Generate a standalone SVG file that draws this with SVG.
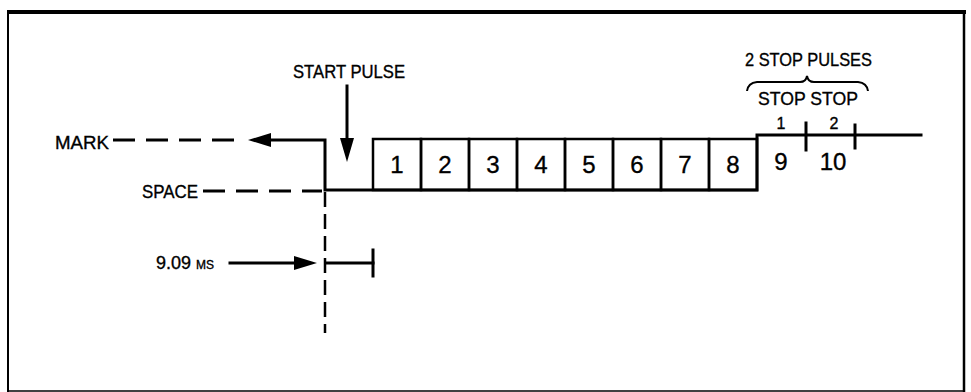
<svg xmlns="http://www.w3.org/2000/svg" width="971" height="392" viewBox="0 0 971 392">
<defs>
<style>
.t{font-family:"Liberation Sans",Arial,sans-serif;fill:#000;stroke:#000;stroke-width:0.35}
.lbl{font-size:18px}
.dig{font-size:24px;text-anchor:middle}
.sm{font-size:16px;text-anchor:middle}
.ln{stroke:#000;stroke-width:3;fill:none;stroke-linecap:square}
.box{stroke:#000;stroke-width:2.5;fill:none}
.dash{stroke:#000;stroke-width:3;fill:none;stroke-dasharray:22 11}
.vdash{stroke:#000;stroke-width:2.5;fill:none;stroke-dasharray:15 7}
.head{fill:#000}
</style>
</defs>
<rect width="971" height="392" fill="#fff"/>
<g id="frame">
<line x1="7" y1="12" x2="966" y2="12" stroke="#000" stroke-width="4"/>
<line x1="8" y1="10" x2="8" y2="392" stroke="#000" stroke-width="2"/>
<line x1="964" y1="10" x2="964" y2="392" stroke="#000" stroke-width="2.5"/>
<line x1="8" y1="391" x2="964" y2="391" stroke="#000" stroke-width="1.5"/>
</g>
<g id="signal">
<polyline class="ln" points="270,140 325,140 325,190 757,190 757,135 921,135"/>
<polygon class="head" points="248,140 271,133 271,147"/>
<rect class="box" x="373" y="139" width="48" height="51"/>
<rect class="box" x="421" y="139" width="48" height="51"/>
<rect class="box" x="469" y="139" width="48" height="51"/>
<rect class="box" x="517" y="139" width="48" height="51"/>
<rect class="box" x="565" y="139" width="48" height="51"/>
<rect class="box" x="613" y="139" width="48" height="51"/>
<rect class="box" x="661" y="139" width="48" height="51"/>
<rect class="box" x="709" y="139" width="48" height="51"/>
<line class="ln" x1="806" y1="123" x2="806" y2="150" stroke-width="2.5"/>
<line class="ln" x1="855" y1="125" x2="855" y2="148" stroke-width="2.5"/>
</g>
<g id="bits">
<text class="t dig" x="397" y="173">1</text>
<text class="t dig" x="445" y="173">2</text>
<text class="t dig" x="493" y="173">3</text>
<text class="t dig" x="541" y="173">4</text>
<text class="t dig" x="589" y="173">5</text>
<text class="t dig" x="637" y="173">6</text>
<text class="t dig" x="685" y="173">7</text>
<text class="t dig" x="733" y="173">8</text>
<text class="t dig" x="781" y="170">9</text>
<text class="t dig" x="833" y="170">10</text>
<text class="t sm" x="781" y="129">1</text>
<text class="t sm" x="834" y="129">2</text>
</g>
<g id="mark">
<text class="t lbl" x="55" y="149" textLength="54" lengthAdjust="spacingAndGlyphs">MARK</text>
<line class="dash" x1="113" y1="140" x2="240" y2="140" stroke-linecap="butt"/>
</g>
<g id="space">
<text class="t lbl" x="142" y="198" textLength="56" lengthAdjust="spacingAndGlyphs">SPACE</text>
<line class="dash" x1="203" y1="191" x2="322" y2="191" stroke-linecap="butt"/>
</g>
<g id="start-pulse">
<text class="t lbl" x="293" y="78" textLength="112" lengthAdjust="spacingAndGlyphs">START PULSE</text>
<line class="ln" x1="347" y1="86" x2="347" y2="140" stroke-linecap="butt"/>
<polygon class="head" points="347,162 340,138 354,138"/>
</g>
<g id="stop-pulses">
<text class="t lbl" x="745" y="66" textLength="127" lengthAdjust="spacingAndGlyphs">2 STOP PULSES</text>
<path d="M747,91 Q748,83 757,82 L800,82 Q806,82 807,76 Q808,82 814,82 L858,82 Q867,83 868,91" stroke="#000" stroke-width="2" fill="none"/>
<text class="t lbl" x="758" y="105" textLength="100" lengthAdjust="spacingAndGlyphs">STOP STOP</text>
</g>
<g id="timing">
<text class="t" x="156" y="269" font-size="18">9.09 <tspan font-size="12">MS</tspan></text>
<line class="ln" x1="230" y1="263" x2="296" y2="263" stroke-linecap="butt"/>
<polygon class="head" points="317,263 294,256 294,270"/>
<line class="vdash" x1="325" y1="192" x2="325" y2="333"/>
<line class="ln" x1="327" y1="263" x2="373" y2="263" stroke-width="2.5" stroke-linecap="butt"/>
<line class="ln" x1="373" y1="250" x2="373" y2="276" stroke-width="2.5" stroke-linecap="butt"/>
</g>
</svg>
